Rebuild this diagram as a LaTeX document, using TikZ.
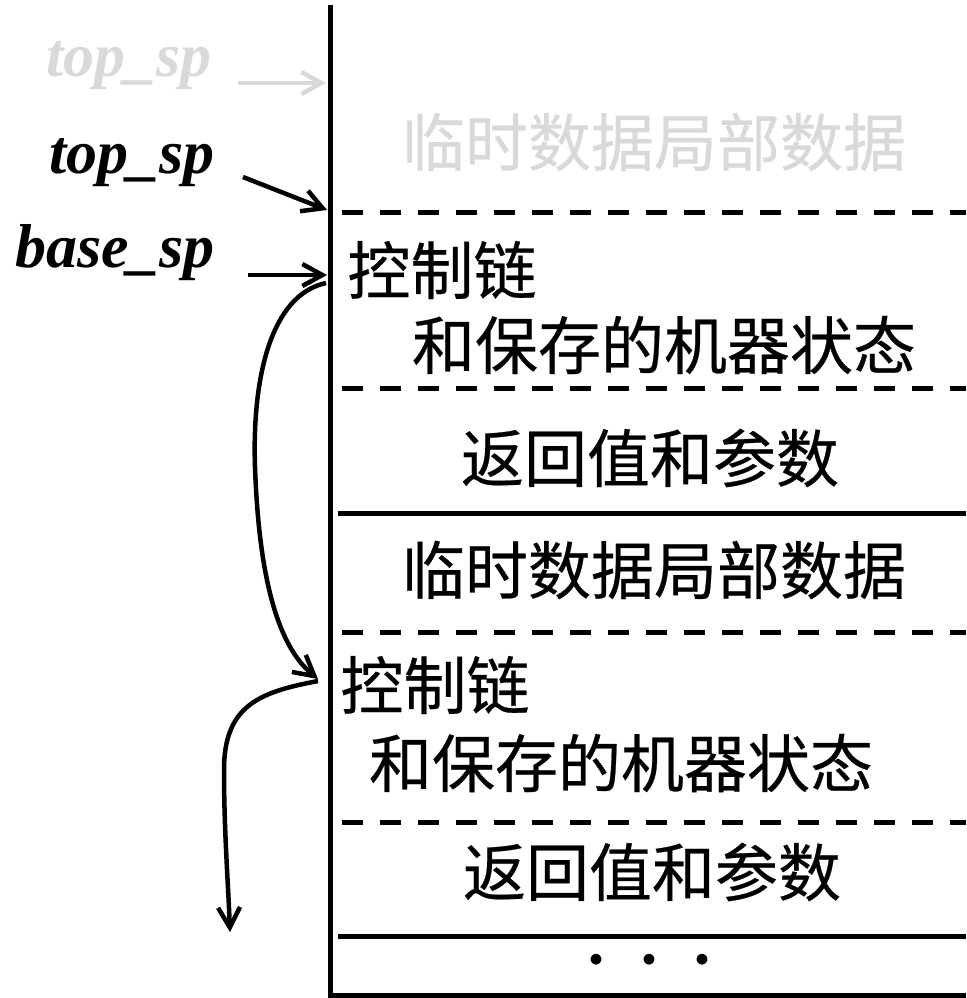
\documentclass[tikz,border=0pt]{standalone}
\usepackage{fontspec}
\setmainfont{Liberation Serif}
\newfontfamily\cjk[FakeBold=0.4]{Noto Sans CJK SC}
\usetikzlibrary{arrows.meta}
\definecolor{lgray}{HTML}{D9D9D9}
\begin{document}
\begin{tikzpicture}[x=1pt,y=-1pt,line width=5pt,line join=miter,
  cn/.style={font=\cjk\fontsize{63}{70}\selectfont,inner sep=0pt},
  lab/.style={font=\fontsize{62}{70}\selectfont\bfseries\itshape,inner sep=0pt,anchor=base},
  arr/.style={-{Straight Barb[length=20pt,width=22pt,line width=4.5pt]},line width=4.5pt},
  dl/.style={dash pattern=on 21pt off 17pt}]
\useasboundingbox (0,0) rectangle (966,998);
% frame
\draw (330,5) -- (330,995) -- (966,995);
\draw[dl] (342,212) -- (966,212);
\draw[dl] (342,388) -- (966,388);
\draw (338,513) -- (966,513);
\draw[dl] (342,632) -- (966,632);
\draw[dl] (342,822) -- (966,822);
\draw (338,936) -- (966,936);
% cells
\node[cn,text=lgray] (g1) at (654,142) {临时数据局部数据};
\node[cn,anchor=west] (c1) at (345,270) {控制链};
\node[cn] (m1) at (664,345) {和保存的机器状态};
\node[cn] (r1) at (650,458) {返回值和参数};
\node[cn] (t2) at (654,570) {临时数据局部数据};
\node[cn,anchor=west] (c2) at (338,685) {控制链};
\node[cn] (m2) at (621,763) {和保存的机器状态};
\node[cn] (r2) at (652,872) {返回值和参数};
\node[font=\fontsize{66}{70}\selectfont\bfseries,inner sep=0pt,anchor=base] (dots) at (650,981) {·\hspace{31pt}·\hspace{31pt}·};
% labels
\node[lab,text=lgray] (lg) at (129,76) {top\_sp};
\node[lab] (lt) at (132,173) {top\_sp};
\node[lab] (lb) at (115,267) {base\_sp};
% arrow ends
\coordinate (ag0) at (238,83);  \coordinate (ag1) at (326,83);
\coordinate (at0) at (243,177); \coordinate (at1) at (327,210);
\coordinate (ab0) at (248,275); \coordinate (ab1) at (327,275);
\coordinate (cs) at (326,283);  \coordinate (ce) at (318,679);
\coordinate (ds) at (318,681);  \coordinate (de) at (230,932);
\draw[arr,draw=lgray,line width=4pt] (ag0) -- (ag1);
\draw[arr] (at0) -- (at1);
\draw[arr] (ab0) -- (ab1);
\draw[arr] (cs) .. controls (270,295) and (252,380) .. (255,467)
               .. controls (258,550) and (270,640) .. (ce);
\draw[arr] (ds) .. controls (260,692) and (224,705) .. (224,770)
               .. controls (224,830) and (228,880) .. (de);
\end{tikzpicture}
\end{document}
